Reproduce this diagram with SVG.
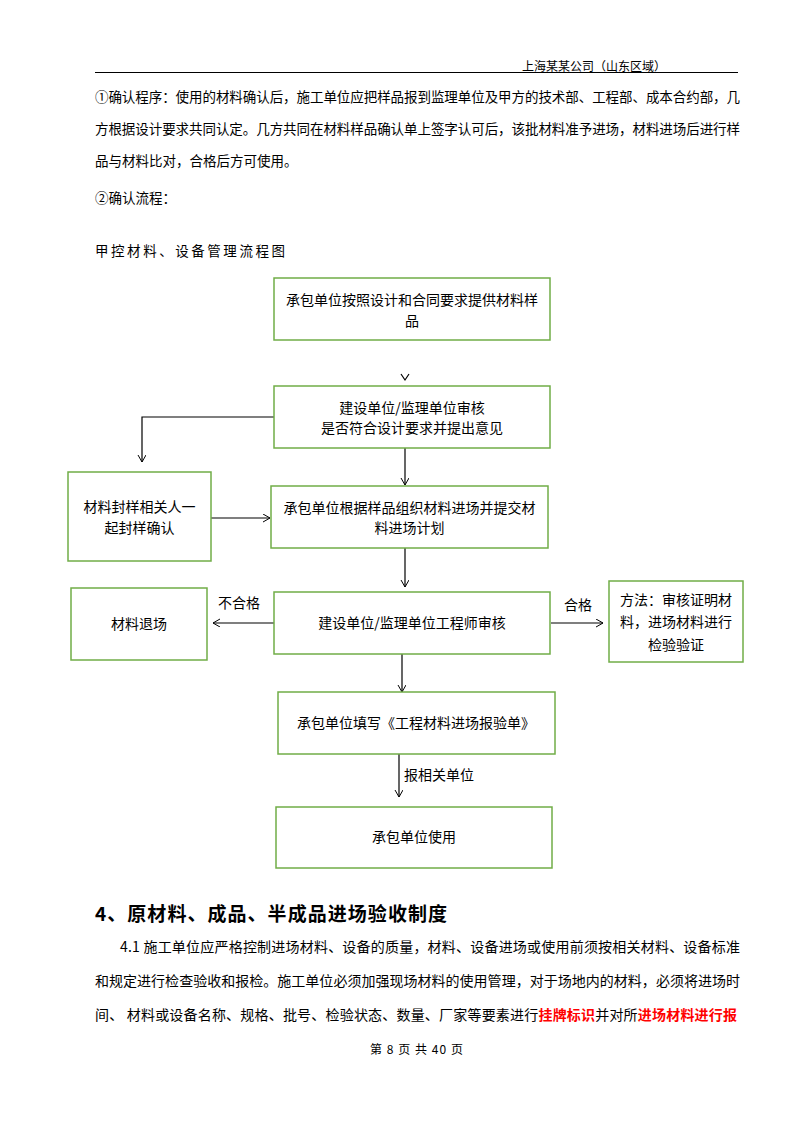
<svg xmlns="http://www.w3.org/2000/svg" width="794" height="1123" viewBox="0 0 794 1123">
<style>
text{font-family:"Noto Sans CJK SC","Liberation Sans",sans-serif;fill:#000}
.t{font-size:13.5px}
.b{font-size:14px}
.n{font-size:14px;text-anchor:middle}
.box{fill:#fff;stroke:#70AD47;stroke-width:1.5}
.c{fill:none;stroke:#000;stroke-width:1.2}
.h{font-size:19px;font-weight:bold}
.r{fill:#FF0000;font-weight:bold}
</style>
<defs>
<marker id="a" markerWidth="10" markerHeight="10" refX="8" refY="4" orient="auto" markerUnits="userSpaceOnUse">
<path d="M1,0 L8,4 L1,8" fill="none" stroke="#000" stroke-width="1"/>
</marker>
</defs>
<rect width="794" height="1123" fill="#fff"/>
<g id="header">
<text x="666" y="71" font-size="12" text-anchor="end">上海某某公司（山东区域）</text>
<line x1="95" y1="72.5" x2="738" y2="72.5" stroke="#000" stroke-width="1"/>
</g>
<g id="body">
<text class="t" x="95" y="102" textLength="645" lengthAdjust="spacing">①确认程序：使用的材料确认后，施工单位应把样品报到监理单位及甲方的技术部、工程部、成本合约部，几</text>
<text class="t" x="95" y="134" textLength="645" lengthAdjust="spacing">方根据设计要求共同认定。几方共同在材料样品确认单上签字认可后，该批材料准予进场，材料进场后进行样</text>
<text class="t" x="95" y="166">品与材料比对，合格后方可使用。</text>
<text class="t" x="95" y="203">②确认流程：</text>
<text class="t" x="95" y="256" textLength="190" lengthAdjust="spacing">甲控材料、设备管理流程图</text>
</g>
<g id="connectors">
<polyline class="c" points="401,374 405,380 409,374"/>
<polyline class="c" points="274,417 142,417 142,462" marker-end="url(#a)"/>
<line class="c" x1="405" y1="448" x2="405" y2="485" marker-end="url(#a)"/>
<line class="c" x1="211" y1="518" x2="270" y2="518" marker-end="url(#a)"/>
<line class="c" x1="405" y1="548" x2="405" y2="587" marker-end="url(#a)"/>
<line class="c" x1="274" y1="623" x2="213" y2="623" marker-end="url(#a)"/>
<line class="c" x1="551" y1="623" x2="603" y2="623" marker-end="url(#a)"/>
<line class="c" x1="402" y1="654" x2="402" y2="692" marker-end="url(#a)"/>
<line class="c" x1="399" y1="754" x2="399" y2="797" marker-end="url(#a)"/>
<text class="b" x="239" y="608" text-anchor="middle">不合格</text>
<text class="b" x="578" y="610" text-anchor="middle">合格</text>
<text class="b" x="404" y="780">报相关单位</text>
</g>
<g id="n1">
<rect class="box" x="274" y="278" width="276" height="62"/>
<text class="n" x="412" y="305">承包单位按照设计和合同要求提供材料样</text>
<text class="n" x="412" y="326">品</text>
</g>
<g id="n2">
<rect class="box" x="274" y="386" width="276" height="62"/>
<text class="n" x="412" y="413">建设单位/监理单位审核</text>
<text class="n" x="412" y="433">是否符合设计要求并提出意见</text>
</g>
<g id="n3">
<rect class="box" x="68" y="472" width="143" height="89"/>
<text class="n" x="139.5" y="512">材料封样相关人一</text>
<text class="n" x="139.5" y="533">起封样确认</text>
</g>
<g id="n4">
<rect class="box" x="271" y="486" width="277" height="62"/>
<text class="n" x="409.5" y="513">承包单位根据样品组织材料进场并提交材</text>
<text class="n" x="409.5" y="533">料进场计划</text>
</g>
<g id="n5">
<rect class="box" x="71" y="588" width="136" height="72"/>
<text class="n" x="139" y="629">材料退场</text>
</g>
<g id="n6">
<rect class="box" x="274" y="592" width="276" height="62"/>
<text class="n" x="412" y="628">建设单位/监理单位工程师审核</text>
</g>
<g id="n7">
<rect class="box" x="609" y="581" width="134" height="81"/>
<text class="n" x="676" y="605">方法：审核证明材</text>
<text class="n" x="676" y="627">料，进场材料进行</text>
<text class="n" x="676" y="650">检验验证</text>
</g>
<g id="n8">
<rect class="box" x="278" y="692" width="277" height="62"/>
<text class="n" x="416" y="728">承包单位填写《工程材料进场报验单》</text>
</g>
<g id="n9">
<rect class="box" x="276" y="807" width="276" height="61"/>
<text class="n" x="414" y="842">承包单位使用</text>
</g>
<g id="section">
<text class="h" x="95" y="921" textLength="352" lengthAdjust="spacing">4、原材料、成品、半成品进场验收制度</text>
<text class="b" x="120" y="952" textLength="620" lengthAdjust="spacing">4.1 施工单位应严格控制进场材料、设备的质量，材料、设备进场或使用前须按相关材料、设备标准</text>
<text class="b" x="95" y="986" textLength="645" lengthAdjust="spacing">和规定进行检查验收和报检。施工单位必须加强现场材料的使用管理，对于场地内的材料，必须将进场时</text>
<text class="b" x="95" y="1020" textLength="642" lengthAdjust="spacing">间、 材料或设备名称、规格、批号、检验状态、数量、厂家等要素进行<tspan class="r">挂牌标识</tspan>并对所<tspan class="r">进场材料进行报</tspan></text>
</g>
<g id="footer">
<text x="370" y="1054" font-size="12" textLength="93" lengthAdjust="spacing">第 8 页 共 40 页</text>
</g>
</svg>
